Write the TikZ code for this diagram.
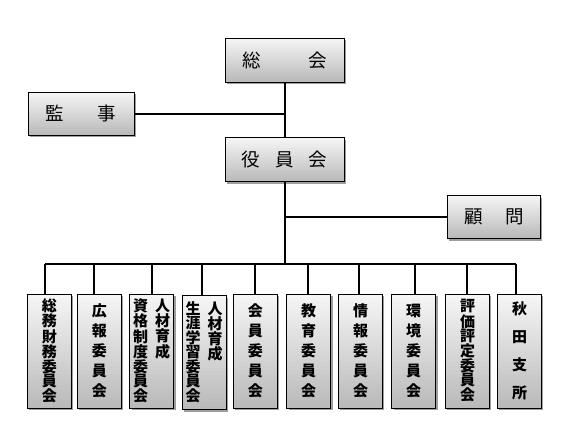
\documentclass[tikz,border=0pt]{standalone}
\usepackage{fontspec}
\newfontfamily\cjk{Noto Sans CJK JP}
\usetikzlibrary{shadows,calc}
\newcommand{\vcolumn}[1]{\parbox[t]{15bp}{\centering #1}}
\tikzset{
  grad/.style={path picture={
    \foreach \k in {0,...,29}{
      \pgfmathsetmacro\pc{27-\k*0.8}
      \fill[black!\pc] ($(path picture bounding box.south west)!\k/30!(path picture bounding box.north west)$)
        rectangle (path picture bounding box.north east);
    }}},
  boxbase/.style={draw=black, line width=0.7bp,
    drop shadow={shadow xshift=1.8bp, shadow yshift=-2.2bp, opacity=1, fill=black!38, draw=none},
    fill=white, grad, inner sep=0pt},
  topbox/.style={boxbase, minimum width=119bp, minimum height=44bp,
    font=\cjk\fontsize{18.5bp}{20bp}\selectfont},
  sidebox/.style={boxbase, minimum height=43bp,
    font=\cjk\fontsize{18.5bp}{20bp}\selectfont},
  colbox/.style={boxbase, minimum width=44bp, minimum height=114bp,
    font=\cjk\bfseries\fontsize{15bp}{14bp}\selectfont},
  wide/.style={font=\cjk\bfseries\fontsize{15bp}{20bp}\selectfont},
  wider/.style={font=\cjk\bfseries\fontsize{15bp}{28bp}\selectfont},
  conn/.style={line width=1.7bp}
}
\begin{document}
\begin{tikzpicture}[x=1bp,y=1bp]
\useasboundingbox (0,0) rectangle (580,423);
% top level (y measured from bottom: 423 - y_px)
\node[topbox] (soukai) at (284.7,363) {総\hspace{48bp}会};
\node[topbox] (yakuin) at (284.7,263.3) {役\hspace{15bp}員\hspace{15bp}会};
\node[sidebox, minimum width=106bp] (kanji) at (81,309.3) {監\hspace{34bp}事};
\node[sidebox, minimum width=93bp] (komon) at (494,206) {顧\hspace{22.5bp}問};
% committees
\node[colbox] (c1) at (49.3,72) {\vcolumn{総\\務\\財\\務\\委\\員\\会}};
\node[colbox, wide] (c2) at (99.3,72) {\vcolumn{広\\報\\委\\員\\会}};
\node[colbox] (c3) at (151.7,72) {\vcolumn{資\\格\\制\\度\\委\\員\\会}\hspace{7bp}\vcolumn{人\\材\\育\\成}};
\node[colbox] (c4) at (204.2,70.7) {\vcolumn{生\\涯\\学\\習\\委\\員\\会}\hspace{7bp}\vcolumn{人\\材\\育\\成}};
\node[colbox, wide] (c5) at (255.3,72) {\vcolumn{会\\員\\委\\員\\会}};
\node[colbox, wide] (c6) at (308.7,72) {\vcolumn{教\\育\\委\\員\\会}};
\node[colbox, wide] (c7) at (360.5,72) {\vcolumn{情\\報\\委\\員\\会}};
\node[colbox, wide] (c8) at (413.7,72) {\vcolumn{環\\境\\委\\員\\会}};
\node[colbox] (c9) at (467.5,72) {\vcolumn{評\\価\\評\\定\\委\\員\\会}};
\node[colbox, wider] (c10) at (519.5,72) {\vcolumn{秋\\田\\支\\所}};
% bus points
\coordinate (b1) at (45,159);
\coordinate (b2) at (94,159);
\coordinate (b3) at (152,159);
\coordinate (b4) at (201.7,159);
\coordinate (b5) at (255,159);
\coordinate (b6) at (307.7,159);
\coordinate (b7) at (359,159);
\coordinate (b8) at (415,159);
\coordinate (b9) at (466.7,159);
\coordinate (b10) at (516,159);
\coordinate (bus) at (soukai.south |- b1);
% connectors
\draw[conn] (soukai.south) -- (yakuin.north);
\draw[conn] (kanji.east) -- (kanji.east -| soukai.south);
\draw[conn] (yakuin.south) -- (bus);
\draw[conn] (komon.west) -- (komon.west -| yakuin.south);
\draw[conn] (b1) -- (b10);
\foreach \i in {1,...,10} {
  \draw[conn] (b\i) -- (b\i |- c\i.north);
}
\end{tikzpicture}
\end{document}
